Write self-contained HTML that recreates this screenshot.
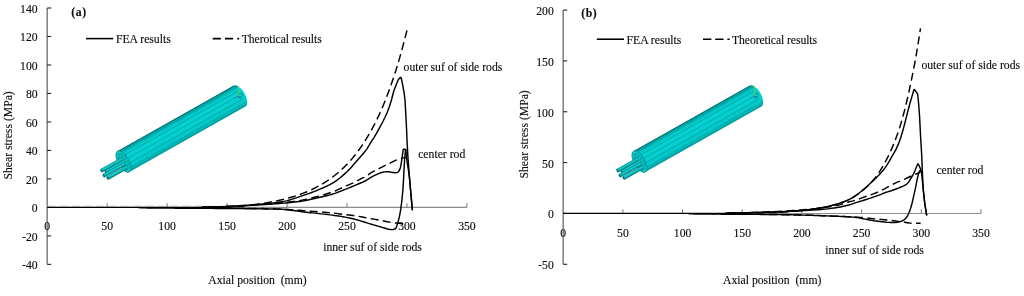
<!DOCTYPE html>
<html><head><meta charset="utf-8"><style>
html,body{margin:0;padding:0;background:#fff;}
svg{display:block;will-change:transform;}
text{font-family:"Liberation Serif", serif;font-size:11.7px;fill:#0a0a0a;stroke:#0a0a0a;stroke-width:0.12px;}
</style></head><body>
<svg width="1024" height="296" viewBox="0 0 1024 296">
<rect width="1024" height="296" fill="#fff"/>
<line x1="47.2" y1="7.998000000000019" x2="47.2" y2="264.372" stroke="#858585" stroke-width="1.6"/>
<line x1="47.2" y1="207.4" x2="466.9" y2="207.4" stroke="#8c8c8c" stroke-width="1.15"/>
<line x1="47.2" y1="264.37" x2="51.20" y2="264.37" stroke="#222" stroke-width="1.1"/>
<text x="37.6" y="269.27" text-anchor="end" font-size="12" stroke-width="0" fill="#262626">-40</text>
<line x1="47.2" y1="235.89" x2="51.20" y2="235.89" stroke="#222" stroke-width="1.1"/>
<text x="37.6" y="240.79" text-anchor="end" font-size="12" stroke-width="0" fill="#262626">-20</text>
<line x1="47.2" y1="207.40" x2="51.20" y2="207.40" stroke="#222" stroke-width="1.1"/>
<text x="37.6" y="212.30" text-anchor="end" font-size="12" stroke-width="0" fill="#262626">0</text>
<line x1="47.2" y1="178.91" x2="51.20" y2="178.91" stroke="#222" stroke-width="1.1"/>
<text x="37.6" y="183.81" text-anchor="end" font-size="12" stroke-width="0" fill="#262626">20</text>
<line x1="47.2" y1="150.43" x2="51.20" y2="150.43" stroke="#222" stroke-width="1.1"/>
<text x="37.6" y="155.33" text-anchor="end" font-size="12" stroke-width="0" fill="#262626">40</text>
<line x1="47.2" y1="121.94" x2="51.20" y2="121.94" stroke="#222" stroke-width="1.1"/>
<text x="37.6" y="126.84" text-anchor="end" font-size="12" stroke-width="0" fill="#262626">60</text>
<line x1="47.2" y1="93.46" x2="51.20" y2="93.46" stroke="#222" stroke-width="1.1"/>
<text x="37.6" y="98.36" text-anchor="end" font-size="12" stroke-width="0" fill="#262626">80</text>
<line x1="47.2" y1="64.97" x2="51.20" y2="64.97" stroke="#222" stroke-width="1.1"/>
<text x="37.6" y="69.87" text-anchor="end" font-size="12" stroke-width="0" fill="#262626">100</text>
<line x1="47.2" y1="36.48" x2="51.20" y2="36.48" stroke="#222" stroke-width="1.1"/>
<text x="37.6" y="41.38" text-anchor="end" font-size="12" stroke-width="0" fill="#262626">120</text>
<line x1="47.2" y1="8.00" x2="51.20" y2="8.00" stroke="#222" stroke-width="1.1"/>
<text x="37.6" y="12.90" text-anchor="end" font-size="12" stroke-width="0" fill="#262626">140</text>
<text x="47.20" y="229.9" text-anchor="middle" font-size="12" stroke-width="0" fill="#262626">0</text>
<line x1="107.16" y1="207.4" x2="107.16" y2="203.20" stroke="#777" stroke-width="1"/>
<text x="107.16" y="229.9" text-anchor="middle" font-size="12" stroke-width="0" fill="#262626">50</text>
<line x1="167.11" y1="207.4" x2="167.11" y2="203.20" stroke="#777" stroke-width="1"/>
<text x="167.11" y="229.9" text-anchor="middle" font-size="12" stroke-width="0" fill="#262626">100</text>
<line x1="227.07" y1="207.4" x2="227.07" y2="203.20" stroke="#777" stroke-width="1"/>
<text x="227.07" y="229.9" text-anchor="middle" font-size="12" stroke-width="0" fill="#262626">150</text>
<line x1="287.03" y1="207.4" x2="287.03" y2="203.20" stroke="#777" stroke-width="1"/>
<text x="287.03" y="229.9" text-anchor="middle" font-size="12" stroke-width="0" fill="#262626">200</text>
<line x1="346.99" y1="207.4" x2="346.99" y2="203.20" stroke="#777" stroke-width="1"/>
<text x="346.99" y="229.9" text-anchor="middle" font-size="12" stroke-width="0" fill="#262626">250</text>
<line x1="406.94" y1="207.4" x2="406.94" y2="203.20" stroke="#777" stroke-width="1"/>
<text x="406.94" y="229.9" text-anchor="middle" font-size="12" stroke-width="0" fill="#262626">300</text>
<line x1="466.90" y1="207.4" x2="466.90" y2="203.20" stroke="#777" stroke-width="1"/>
<text x="466.90" y="229.9" text-anchor="middle" font-size="12" stroke-width="0" fill="#262626">350</text>
<line x1="563.2" y1="10.050000000000011" x2="563.2" y2="264.29999999999995" stroke="#858585" stroke-width="1.6"/>
<line x1="563.2" y1="213.45" x2="981.0" y2="213.45" stroke="#8c8c8c" stroke-width="1.15"/>
<line x1="563.2" y1="264.30" x2="567.20" y2="264.30" stroke="#222" stroke-width="1.1"/>
<text x="553.8" y="269.20" text-anchor="end" font-size="12" stroke-width="0" fill="#262626">-50</text>
<line x1="563.2" y1="213.45" x2="567.20" y2="213.45" stroke="#222" stroke-width="1.1"/>
<text x="553.8" y="218.35" text-anchor="end" font-size="12" stroke-width="0" fill="#262626">0</text>
<line x1="563.2" y1="162.60" x2="567.20" y2="162.60" stroke="#222" stroke-width="1.1"/>
<text x="553.8" y="167.50" text-anchor="end" font-size="12" stroke-width="0" fill="#262626">50</text>
<line x1="563.2" y1="111.75" x2="567.20" y2="111.75" stroke="#222" stroke-width="1.1"/>
<text x="553.8" y="116.65" text-anchor="end" font-size="12" stroke-width="0" fill="#262626">100</text>
<line x1="563.2" y1="60.90" x2="567.20" y2="60.90" stroke="#222" stroke-width="1.1"/>
<text x="553.8" y="65.80" text-anchor="end" font-size="12" stroke-width="0" fill="#262626">150</text>
<line x1="563.2" y1="10.05" x2="567.20" y2="10.05" stroke="#222" stroke-width="1.1"/>
<text x="553.8" y="14.95" text-anchor="end" font-size="12" stroke-width="0" fill="#262626">200</text>
<text x="563.20" y="236.5" text-anchor="middle" font-size="12" stroke-width="0" fill="#262626">0</text>
<line x1="622.89" y1="213.45" x2="622.89" y2="209.25" stroke="#777" stroke-width="1"/>
<text x="622.89" y="236.5" text-anchor="middle" font-size="12" stroke-width="0" fill="#262626">50</text>
<line x1="682.57" y1="213.45" x2="682.57" y2="209.25" stroke="#777" stroke-width="1"/>
<text x="682.57" y="236.5" text-anchor="middle" font-size="12" stroke-width="0" fill="#262626">100</text>
<line x1="742.26" y1="213.45" x2="742.26" y2="209.25" stroke="#777" stroke-width="1"/>
<text x="742.26" y="236.5" text-anchor="middle" font-size="12" stroke-width="0" fill="#262626">150</text>
<line x1="801.94" y1="213.45" x2="801.94" y2="209.25" stroke="#777" stroke-width="1"/>
<text x="801.94" y="236.5" text-anchor="middle" font-size="12" stroke-width="0" fill="#262626">200</text>
<line x1="861.63" y1="213.45" x2="861.63" y2="209.25" stroke="#777" stroke-width="1"/>
<text x="861.63" y="236.5" text-anchor="middle" font-size="12" stroke-width="0" fill="#262626">250</text>
<line x1="921.31" y1="213.45" x2="921.31" y2="209.25" stroke="#777" stroke-width="1"/>
<text x="921.31" y="236.5" text-anchor="middle" font-size="12" stroke-width="0" fill="#262626">300</text>
<line x1="981.00" y1="213.45" x2="981.00" y2="209.25" stroke="#777" stroke-width="1"/>
<text x="981.00" y="236.5" text-anchor="middle" font-size="12" stroke-width="0" fill="#262626">350</text>
<line x1="47.2" y1="207.4" x2="227.07" y2="207.4" stroke="#000" stroke-width="1.25"/>
<line x1="47.2" y1="206.30" x2="227.07" y2="206.30" stroke="#999" stroke-width="0.8" stroke-dasharray="8 4.3"/>
<path d="M207.17,207.13 L209.39,207.07 L211.61,207.02 L213.84,206.96 L216.06,206.89 L218.28,206.83 L220.50,206.76 L222.72,206.69 L224.94,206.62 L227.17,206.54 L229.39,206.46 L231.61,206.36 L233.83,206.26 L236.05,206.13 L238.28,206.00 L240.50,205.86 L242.72,205.70 L244.94,205.54 L247.16,205.37 L249.38,205.19 L251.61,205.01 L253.83,204.82 L256.05,204.62 L258.27,204.42 L260.49,204.22 L262.72,204.01 L264.94,203.80 L267.16,203.58 L269.38,203.35 L271.60,203.11 L273.82,202.85 L276.05,202.56 L278.27,202.25 L280.49,201.91 L282.71,201.54 L284.93,201.12 L287.16,200.60 L289.38,200.00 L291.60,199.33 L293.82,198.62 L296.04,197.88 L298.26,197.14 L300.49,196.41 L302.71,195.68 L304.93,194.93 L307.15,194.16 L309.37,193.36 L311.60,192.54 L313.82,191.68 L316.04,190.80 L318.26,189.88 L320.48,188.95 L322.70,187.99 L324.93,187.00 L327.15,185.94 L329.37,184.82 L331.59,183.62 L333.81,182.32 L336.04,180.88 L338.26,179.27 L340.48,177.51 L342.70,175.64 L344.92,173.65 L347.14,171.59 L349.37,169.39 L351.59,166.93 L353.81,164.33 L356.03,161.73 L358.25,159.23 L360.47,156.72 L362.70,154.15 L364.92,151.56 L367.14,148.60 L369.36,144.81 L371.58,141.21 L373.81,137.80 L376.03,134.09 L378.25,130.09 L380.47,126.09 L382.69,122.00 L384.91,117.55 L387.14,112.60 L389.36,106.81 L391.58,99.45 L393.80,90.98 L396.02,85.22 L398.25,79.75 L400.47,77.36 L401.00,77.50 L401.90,81.00 L402.70,85.20 L404.20,93.30 L405.00,100.00 L405.60,110.60 L406.20,122.00 L406.70,132.00 L407.10,142.00 L408.00,158.00 L409.50,178.00 L411.00,195.00 L412.40,210.30" fill="none" stroke="#000" stroke-width="1.45" stroke-linejoin="round"/>
<path d="M202.75,207.11 L204.94,207.08 L207.13,207.04 L209.33,207.01 L211.52,206.97 L213.71,206.93 L215.90,206.89 L218.09,206.84 L220.28,206.77 L222.47,206.71 L224.66,206.63 L226.85,206.54 L229.04,206.45 L231.23,206.36 L233.43,206.26 L235.62,206.15 L237.81,206.05 L240.00,205.94 L242.19,205.83 L244.38,205.72 L246.57,205.62 L248.76,205.50 L250.95,205.39 L253.14,205.27 L255.33,205.15 L257.53,205.02 L259.72,204.89 L261.91,204.75 L264.10,204.61 L266.29,204.47 L268.48,204.32 L270.67,204.16 L272.86,204.00 L275.05,203.84 L277.24,203.67 L279.43,203.50 L281.62,203.32 L283.82,203.14 L286.01,202.95 L288.20,202.75 L290.39,202.53 L292.58,202.30 L294.77,202.06 L296.96,201.80 L299.15,201.53 L301.34,201.22 L303.53,200.86 L305.72,200.46 L307.92,200.01 L310.11,199.54 L312.30,199.04 L314.49,198.54 L316.68,198.05 L318.87,197.55 L321.06,197.05 L323.25,196.54 L325.44,196.01 L327.63,195.46 L329.82,194.88 L332.02,194.26 L334.21,193.60 L336.40,192.86 L338.59,192.04 L340.78,191.18 L342.97,190.29 L345.16,189.42 L347.35,188.55 L349.54,187.66 L351.73,186.76 L353.92,185.84 L356.12,184.91 L358.31,183.98 L360.50,183.04 L362.69,182.06 L364.88,181.00 L367.07,179.79 L369.26,178.42 L371.45,177.10 L373.64,175.96 L375.83,174.91 L378.02,173.93 L380.21,172.96 L382.41,172.30 L384.60,171.88 L386.79,171.66 L388.98,171.80 L391.17,172.18 L393.36,172.50 L395.55,172.79 L397.80,172.40 L399.40,170.30 L400.30,168.00 L400.90,165.20 L401.60,161.00 L402.30,156.00 L402.90,151.50 L403.30,149.50 L404.50,149.10 L405.70,149.40 L406.10,153.00 L406.60,158.00 L407.40,164.00 L408.40,170.00 L409.50,178.00 L411.00,195.00 L412.40,210.30" fill="none" stroke="#000" stroke-width="1.45" stroke-linejoin="round"/>
<path d="M138.58,207.64 L140.76,207.72 L142.94,207.80 L145.11,207.88 L147.29,207.94 L149.46,207.97 L151.64,208.00 L153.81,208.02 L155.99,208.04 L158.17,208.06 L160.34,208.08 L162.52,208.09 L164.69,208.11 L166.87,208.12 L169.04,208.13 L171.22,208.14 L173.40,208.15 L175.57,208.17 L177.75,208.18 L179.92,208.19 L182.10,208.20 L184.28,208.21 L186.45,208.22 L188.63,208.24 L190.80,208.25 L192.98,208.27 L195.15,208.28 L197.33,208.30 L199.51,208.31 L201.68,208.33 L203.86,208.34 L206.03,208.35 L208.21,208.37 L210.39,208.38 L212.56,208.40 L214.74,208.41 L216.91,208.43 L219.09,208.44 L221.26,208.46 L223.44,208.47 L225.62,208.49 L227.79,208.51 L229.97,208.53 L232.14,208.55 L234.32,208.56 L236.49,208.59 L238.67,208.61 L240.85,208.63 L243.02,208.65 L245.20,208.67 L247.37,208.69 L249.55,208.72 L251.73,208.74 L253.90,208.76 L256.08,208.79 L258.25,208.82 L260.43,208.85 L262.60,208.88 L264.78,208.91 L266.96,208.95 L269.13,208.99 L271.31,209.03 L273.48,209.08 L275.66,209.13 L277.84,209.19 L280.01,209.25 L282.19,209.34 L284.36,209.49 L286.54,209.69 L288.71,209.92 L290.89,210.19 L293.07,210.47 L295.24,210.77 L297.42,211.08 L299.59,211.38 L301.77,211.68 L303.94,211.95 L306.12,212.20 L308.30,212.43 L310.47,212.67 L312.65,212.90 L314.82,213.13 L317.00,213.37 L319.18,213.61 L321.35,213.86 L323.53,214.11 L325.70,214.36 L327.88,214.62 L330.05,214.87 L332.23,215.14 L334.41,215.42 L336.58,215.72 L338.76,216.03 L340.93,216.38 L343.11,216.75 L345.29,217.16 L347.46,217.59 L349.64,218.06 L351.81,218.55 L353.99,219.06 L356.16,219.59 L358.34,220.18 L360.52,220.83 L362.69,221.51 L364.87,222.20 L367.04,222.90 L369.22,223.58 L371.39,224.23 L373.57,224.87 L375.75,225.51 L377.92,226.15 L380.10,226.78 L382.27,227.39 L384.45,228.04 L386.63,228.71 L388.80,229.22 L390.98,229.49 L393.15,229.62 L394.40,229.00 L395.40,228.70 L396.30,227.60 L397.10,225.00 L398.30,221.00 L399.40,216.60 L400.20,212.50 L400.90,208.20 L401.50,203.50 L402.00,199.10 L402.90,190.00 L403.50,180.00 L404.10,168.00 L404.60,160.00 L405.00,155.00 L405.40,151.00 L405.70,149.40" fill="none" stroke="#000" stroke-width="1.45" stroke-linejoin="round"/>
<path d="M406.94,30.36 L405.14,37.61 L403.33,44.58 L401.52,51.26 L399.71,57.67 L397.90,63.82 L396.10,69.73 L394.29,75.39 L392.48,80.83 L390.67,86.05 L388.87,91.06 L387.06,95.86 L385.25,100.47 L383.44,104.90 L381.63,109.15 L379.83,113.22 L378.02,117.13 L376.21,120.88 L374.40,124.49 L372.60,127.94 L370.79,131.26 L368.98,134.44 L367.17,137.49 L365.36,140.43 L363.56,143.24 L361.75,145.94 L359.94,148.53 L358.13,151.01 L356.33,153.40 L354.52,155.69 L352.71,157.88 L350.90,159.99 L349.09,162.01 L347.29,163.96 L345.48,165.82 L343.67,167.61 L341.86,169.32 L340.06,170.97 L338.25,172.55 L336.44,174.06 L334.63,175.52 L332.82,176.91 L331.02,178.25 L329.21,179.54 L327.40,180.77 L325.59,181.96 L323.79,183.09 L321.98,184.18 L320.17,185.23 L318.36,186.23 L316.56,187.20 L314.75,188.12 L312.94,189.01 L311.13,189.86 L309.32,190.68 L307.52,191.46 L305.71,192.22 L303.90,192.94 L302.09,193.63 L300.29,194.30 L298.48,194.93 L296.67,195.55 L294.86,196.13 L293.05,196.70 L291.25,197.24 L289.44,197.76 L287.63,198.26 L285.82,198.74 L284.02,199.19 L282.21,199.63 L280.40,200.06 L278.59,200.46 L276.78,200.85 L274.98,201.23 L273.17,201.58 L271.36,201.93 L269.55,202.26 L267.75,202.57 L265.94,202.88 L264.13,203.17 L262.32,203.45 L260.51,203.72 L258.71,203.98 L256.90,204.22 L255.09,204.46 L253.28,204.69 L251.48,204.91 L249.67,205.12 L247.86,205.32 L246.05,205.51 L244.25,205.70 L242.44,205.88 L240.63,206.05 L238.82,206.21 L237.01,206.37 L235.21,206.52 L233.40,206.66 L231.59,206.80 L229.78,206.94 L227.98,207.06 L226.17,207.19" fill="none" stroke="#000" stroke-width="1.45" stroke-dasharray="8 4.3" stroke-dashoffset="0" stroke-linejoin="round"/>
<path d="M201.05,207.11 L203.31,207.07 L205.58,207.03 L207.84,206.98 L210.10,206.94 L212.36,206.89 L214.63,206.84 L216.89,206.79 L219.15,206.72 L221.42,206.64 L223.68,206.55 L225.94,206.45 L228.20,206.34 L230.47,206.23 L232.73,206.11 L234.99,205.98 L237.25,205.86 L239.52,205.73 L241.78,205.59 L244.04,205.46 L246.30,205.33 L248.57,205.20 L250.83,205.06 L253.09,204.92 L255.35,204.77 L257.62,204.62 L259.88,204.46 L262.14,204.30 L264.40,204.13 L266.67,203.96 L268.93,203.78 L271.19,203.60 L273.45,203.41 L275.72,203.21 L277.98,203.01 L280.24,202.80 L282.50,202.59 L284.77,202.37 L287.03,202.14 L289.29,201.89 L291.55,201.63 L293.82,201.35 L296.08,201.06 L298.34,200.74 L300.60,200.39 L302.87,199.99 L305.13,199.53 L307.39,199.01 L309.65,198.46 L311.92,197.88 L314.18,197.29 L316.44,196.69 L318.70,196.09 L320.97,195.48 L323.23,194.85 L325.49,194.19 L327.75,193.50 L330.02,192.77 L332.28,191.99 L334.54,191.16 L336.80,190.21 L339.07,189.15 L341.33,188.06 L343.59,186.98 L345.85,185.98 L348.12,185.06 L350.38,184.16 L352.64,183.19 L354.90,182.10 L357.17,180.86 L359.43,179.60 L361.69,178.44 L363.95,177.34 L366.22,176.11 L368.48,174.59 L370.74,172.98 L373.00,171.61 L375.27,170.48 L377.53,169.39 L379.79,168.23 L382.05,167.05 L384.32,165.89 L386.58,164.76 L388.84,163.65 L391.11,162.53 L393.37,161.36 L395.63,160.30 L397.89,159.49 L400.16,158.78 L402.42,158.15 L404.68,157.63 L406.94,157.26" fill="none" stroke="#000" stroke-width="1.45" stroke-dasharray="8 4.3" stroke-dashoffset="0" stroke-linejoin="round"/>
<path d="M186.78,207.67 L189.03,207.70 L191.28,207.74 L193.53,207.77 L195.78,207.80 L198.03,207.84 L200.28,207.87 L202.53,207.89 L204.79,207.92 L207.04,207.94 L209.29,207.96 L211.54,207.98 L213.79,208.00 L216.04,208.02 L218.29,208.04 L220.54,208.06 L222.80,208.08 L225.05,208.11 L227.30,208.13 L229.55,208.15 L231.80,208.17 L234.05,208.20 L236.30,208.22 L238.55,208.25 L240.81,208.28 L243.06,208.30 L245.31,208.33 L247.56,208.36 L249.81,208.38 L252.06,208.41 L254.31,208.44 L256.56,208.47 L258.81,208.51 L261.07,208.54 L263.32,208.58 L265.57,208.62 L267.82,208.66 L270.07,208.71 L272.32,208.76 L274.57,208.81 L276.82,208.87 L279.08,208.94 L281.33,209.01 L283.58,209.13 L285.83,209.29 L288.08,209.46 L290.33,209.64 L292.58,209.82 L294.83,209.98 L297.09,210.15 L299.34,210.32 L301.59,210.49 L303.84,210.67 L306.09,210.85 L308.34,211.03 L310.59,211.21 L312.84,211.40 L315.10,211.58 L317.35,211.76 L319.60,211.95 L321.85,212.12 L324.10,212.29 L326.35,212.46 L328.60,212.65 L330.85,212.84 L333.11,213.05 L335.36,213.29 L337.61,213.60 L339.86,213.94 L342.11,214.24 L344.36,214.50 L346.61,214.76 L348.86,215.00 L351.11,215.26 L353.37,215.54 L355.62,215.86 L357.87,216.22 L360.12,216.63 L362.37,217.06 L364.62,217.50 L366.87,217.93 L369.12,218.35 L371.38,218.74 L373.63,219.14 L375.88,219.53 L378.13,219.93 L380.38,220.33 L382.63,220.75 L384.88,221.21 L387.13,221.67 L389.39,222.11 L391.64,222.49 L393.89,222.80 L396.14,223.05 L398.39,223.29 L400.64,223.49 L402.89,223.66 L405.14,223.78" fill="none" stroke="#000" stroke-width="1.45" stroke-dasharray="8 4.3" stroke-dashoffset="0" stroke-linejoin="round"/>
<line x1="563.2" y1="213.45" x2="742.26" y2="213.45" stroke="#000" stroke-width="1.25"/>
<path d="M728.69,213.20 L730.89,213.12 L733.10,213.05 L735.31,212.97 L737.51,212.90 L739.72,212.84 L741.93,212.79 L744.13,212.74 L746.34,212.70 L748.55,212.65 L750.75,212.61 L752.96,212.57 L755.17,212.53 L757.37,212.49 L759.58,212.45 L761.78,212.40 L763.99,212.36 L766.20,212.31 L768.40,212.26 L770.61,212.21 L772.82,212.15 L775.02,212.08 L777.23,212.01 L779.44,211.94 L781.64,211.85 L783.85,211.75 L786.06,211.63 L788.26,211.49 L790.47,211.34 L792.68,211.18 L794.88,211.01 L797.09,210.83 L799.29,210.64 L801.50,210.44 L803.71,210.23 L805.91,210.00 L808.12,209.74 L810.33,209.47 L812.53,209.17 L814.74,208.86 L816.95,208.53 L819.15,208.19 L821.36,207.83 L823.57,207.43 L825.77,206.98 L827.98,206.50 L830.19,205.98 L832.39,205.42 L834.60,204.81 L836.81,204.16 L839.01,203.47 L841.22,202.72 L843.42,201.92 L845.63,201.06 L847.84,200.08 L850.04,198.98 L852.25,197.76 L854.46,196.40 L856.66,194.87 L858.87,193.22 L861.08,191.51 L863.28,189.68 L865.49,187.76 L867.70,185.81 L869.90,183.83 L872.11,181.81 L874.32,179.71 L876.52,177.53 L878.73,175.26 L880.94,172.85 L883.14,170.25 L885.35,167.42 L887.55,164.21 L889.76,160.41 L891.97,156.39 L894.17,152.53 L896.38,148.53 L898.59,143.65 L900.79,137.46 L903.00,129.97 L905.21,121.76 L907.41,112.85 L909.62,104.47 L911.83,96.89 L914.03,89.58 L914.60,89.60 L916.00,91.60 L917.60,94.00 L918.40,101.00 L919.50,115.00 L920.50,135.00 L921.70,155.00 L922.50,175.00 L923.30,190.00 L924.70,203.00 L926.50,214.50 L927.00,215.40" fill="none" stroke="#000" stroke-width="1.45" stroke-linejoin="round"/>
<path d="M726.44,213.17 L728.59,213.14 L730.74,213.11 L732.89,213.07 L735.03,213.03 L737.18,212.99 L739.33,212.95 L741.48,212.91 L743.63,212.86 L745.77,212.82 L747.92,212.77 L750.07,212.73 L752.22,212.68 L754.37,212.63 L756.51,212.58 L758.66,212.53 L760.81,212.47 L762.96,212.40 L765.11,212.33 L767.25,212.26 L769.40,212.18 L771.55,212.10 L773.70,212.02 L775.85,211.93 L777.99,211.84 L780.14,211.75 L782.29,211.66 L784.44,211.56 L786.59,211.47 L788.73,211.37 L790.88,211.27 L793.03,211.17 L795.18,211.07 L797.32,210.97 L799.47,210.86 L801.62,210.75 L803.77,210.63 L805.92,210.51 L808.06,210.38 L810.21,210.25 L812.36,210.12 L814.51,209.97 L816.66,209.82 L818.80,209.66 L820.95,209.50 L823.10,209.31 L825.25,209.11 L827.40,208.88 L829.54,208.63 L831.69,208.34 L833.84,208.03 L835.99,207.69 L838.14,207.32 L840.28,206.92 L842.43,206.49 L844.58,206.02 L846.73,205.52 L848.88,204.98 L851.02,204.38 L853.17,203.57 L855.32,202.84 L857.47,202.18 L859.62,201.53 L861.76,200.89 L863.91,200.23 L866.06,199.54 L868.21,198.83 L870.35,198.09 L872.50,197.35 L874.65,196.61 L876.80,195.89 L878.95,195.18 L881.09,194.39 L883.24,193.41 L885.39,192.53 L887.54,191.85 L889.69,191.23 L891.83,190.55 L893.98,189.79 L896.13,189.00 L898.28,188.17 L900.43,187.29 L902.57,186.36 L904.72,185.38 L905.90,184.70 L908.40,182.50 L910.10,179.60 L912.00,176.50 L913.50,174.00 L914.80,171.00 L916.40,167.00 L917.90,163.70 L919.00,165.30 L920.40,168.80 L921.60,172.50 L922.50,182.00 L923.30,190.00 L924.70,203.00 L926.50,214.50 L927.00,215.40" fill="none" stroke="#000" stroke-width="1.45" stroke-linejoin="round"/>
<path d="M688.69,213.66 L690.81,213.76 L692.94,213.85 L695.07,213.92 L697.20,213.96 L699.32,213.99 L701.45,214.01 L703.58,214.03 L705.70,214.05 L707.83,214.07 L709.96,214.09 L712.08,214.10 L714.21,214.11 L716.34,214.13 L718.46,214.14 L720.59,214.15 L722.72,214.16 L724.85,214.18 L726.97,214.19 L729.10,214.20 L731.23,214.22 L733.35,214.23 L735.48,214.25 L737.61,214.26 L739.73,214.28 L741.86,214.29 L743.99,214.30 L746.11,214.31 L748.24,214.33 L750.37,214.34 L752.50,214.36 L754.62,214.37 L756.75,214.39 L758.88,214.40 L761.00,214.42 L763.13,214.44 L765.26,214.46 L767.38,214.48 L769.51,214.50 L771.64,214.53 L773.76,214.56 L775.89,214.59 L778.02,214.62 L780.15,214.65 L782.27,214.69 L784.40,214.72 L786.53,214.76 L788.65,214.80 L790.78,214.84 L792.91,214.88 L795.03,214.93 L797.16,214.97 L799.29,215.02 L801.41,215.07 L803.54,215.11 L805.67,215.17 L807.80,215.22 L809.92,215.28 L812.05,215.35 L814.18,215.41 L816.30,215.48 L818.43,215.56 L820.56,215.63 L822.68,215.71 L824.81,215.79 L826.94,215.87 L829.06,215.95 L831.19,216.04 L833.32,216.12 L835.44,216.21 L837.57,216.29 L839.70,216.38 L841.83,216.47 L843.95,216.58 L846.08,216.69 L848.21,216.81 L850.33,216.95 L852.46,217.11 L854.59,217.28 L856.71,217.52 L858.84,217.87 L860.97,218.29 L863.09,218.73 L865.22,219.15 L867.35,219.55 L869.48,219.96 L871.60,220.37 L873.73,220.75 L875.86,221.06 L877.98,221.34 L880.11,221.58 L882.24,221.80 L884.36,222.01 L886.49,222.22 L888.62,222.37 L890.74,222.48 L892.87,222.55 L895.00,222.51 L897.13,222.35 L899.25,221.91 L901.38,221.28 L903.60,220.20 L905.00,219.00 L906.50,217.40 L907.80,215.30 L909.40,211.70 L910.90,207.50 L912.10,203.00 L913.20,198.20 L914.40,192.80 L915.60,187.30 L917.10,179.60 L918.30,174.50 L919.50,171.00 L920.50,170.30 L921.60,172.50" fill="none" stroke="#000" stroke-width="1.45" stroke-linejoin="round"/>
<path d="M920.48,28.46 L919.10,37.48 L917.72,46.08 L916.34,54.25 L914.96,62.00 L913.58,69.24 L912.20,76.13 L910.82,82.86 L909.44,89.45 L908.06,95.79 L906.68,101.74 L905.30,107.38 L903.93,112.76 L902.55,117.86 L901.17,122.68 L899.79,127.19 L898.41,131.30 L897.03,135.19 L895.65,138.92 L894.27,142.49 L892.89,145.90 L891.51,149.15 L890.13,152.24 L888.75,155.17 L887.37,157.96 L885.99,160.60 L884.61,163.13 L883.23,165.56 L881.85,167.91 L880.47,170.18 L879.10,172.35 L877.72,174.38 L876.34,176.26 L874.96,178.03 L873.58,179.70 L872.20,181.30 L870.82,182.82 L869.44,184.27 L868.06,185.66 L866.68,186.98 L865.30,188.23 L863.92,189.43 L862.54,190.57 L861.16,191.67 L859.78,192.72 L858.40,193.74 L857.02,194.73 L855.64,195.67 L854.26,196.56 L852.89,197.40 L851.51,198.18 L850.13,198.92 L848.75,199.64 L847.37,200.30 L845.99,200.91 L844.61,201.47 L843.23,201.98 L841.85,202.48 L840.47,202.95 L839.09,203.40 L837.71,203.83 L836.33,204.24 L834.95,204.64 L833.57,205.01 L832.19,205.38 L830.81,205.72 L829.43,206.06 L828.06,206.38 L826.68,206.68 L825.30,206.97 L823.92,207.25 L822.54,207.51 L821.16,207.76 L819.78,207.99 L818.40,208.21 L817.02,208.43 L815.64,208.65 L814.26,208.86 L812.88,209.06 L811.50,209.26 L810.12,209.45 L808.74,209.63 L807.36,209.80 L805.98,209.97 L804.60,210.12 L803.23,210.27 L801.85,210.41 L800.47,210.54 L799.09,210.67 L797.71,210.80 L796.33,210.92 L794.95,211.04 L793.57,211.16 L792.19,211.27 L790.81,211.38 L789.43,211.48 L788.05,211.58 L786.67,211.67 L785.29,211.76 L783.91,211.84 L782.53,211.91 L781.15,211.97 L779.77,212.03 L778.39,212.08 L777.02,212.13 L775.64,212.18 L774.26,212.23 L772.88,212.27 L771.50,212.32 L770.12,212.36 L768.74,212.40 L767.36,212.44 L765.98,212.47 L764.60,212.51 L763.22,212.55 L761.84,212.58 L760.46,212.61 L759.08,212.64 L757.70,212.67 L756.32,212.70 L754.94,212.73 L753.56,212.76 L752.19,212.78 L750.81,212.81 L749.43,212.83 L748.05,212.85 L746.67,212.88 L745.29,212.90 L743.91,212.92 L742.53,212.94 L741.15,212.96 L739.77,212.98 L738.39,213.00 L737.01,213.01 L735.63,213.03 L734.25,213.05 L732.87,213.07 L731.49,213.09 L730.11,213.11 L728.73,213.13 L727.36,213.14 L725.98,213.16" fill="none" stroke="#000" stroke-width="1.45" stroke-dasharray="8 4.3" stroke-dashoffset="4.2" stroke-linejoin="round"/>
<path d="M724.99,213.15 L727.23,213.11 L729.48,213.07 L731.73,213.02 L733.97,212.97 L736.22,212.91 L738.47,212.86 L740.72,212.80 L742.96,212.74 L745.21,212.68 L747.46,212.62 L749.70,212.56 L751.95,212.50 L754.20,212.43 L756.45,212.37 L758.69,212.29 L760.94,212.21 L763.19,212.12 L765.43,212.03 L767.68,211.93 L769.93,211.83 L772.17,211.72 L774.42,211.60 L776.67,211.48 L778.92,211.36 L781.16,211.23 L783.41,211.10 L785.66,210.97 L787.90,210.83 L790.15,210.70 L792.40,210.55 L794.64,210.40 L796.89,210.25 L799.14,210.09 L801.39,209.92 L803.63,209.75 L805.88,209.56 L808.13,209.36 L810.37,209.16 L812.62,208.94 L814.87,208.71 L817.12,208.47 L819.36,208.22 L821.61,207.94 L823.86,207.64 L826.10,207.30 L828.35,206.94 L830.60,206.54 L832.84,206.12 L835.09,205.67 L837.34,205.20 L839.59,204.70 L841.83,204.14 L844.08,203.47 L846.33,202.75 L848.57,202.04 L850.82,201.41 L853.07,200.88 L855.31,200.24 L857.56,199.49 L859.81,198.68 L862.06,197.85 L864.30,197.03 L866.55,196.25 L868.80,195.49 L871.04,194.72 L873.29,193.91 L875.54,193.04 L877.79,192.02 L880.03,190.94 L882.28,189.89 L884.53,188.83 L886.77,187.63 L889.02,186.33 L891.27,185.08 L893.51,183.97 L895.76,182.94 L898.01,181.96 L900.26,181.01 L902.50,180.05 L904.75,179.06 L907.00,178.03 L909.24,176.97 L911.49,175.92 L913.74,174.91 L915.98,173.99 L918.23,173.15 L920.48,172.36" fill="none" stroke="#000" stroke-width="1.45" stroke-dasharray="8 4.3" stroke-dashoffset="0" stroke-linejoin="round"/>
<path d="M920.60,223.31 L918.35,223.30 L916.10,223.26 L913.85,223.21 L911.61,223.13 L909.36,222.99 L907.11,222.68 L904.86,222.33 L902.62,222.03 L900.37,221.71 L898.12,221.40 L895.87,221.09 L893.62,220.82 L891.38,220.55 L889.13,220.30 L886.88,220.06 L884.63,219.82 L882.39,219.59 L880.14,219.38 L877.89,219.17 L875.64,218.97 L873.39,218.77 L871.15,218.56 L868.90,218.32 L866.65,218.07 L864.40,217.82 L862.16,217.57 L859.91,217.36 L857.66,217.20 L855.41,217.06 L853.16,216.93 L850.92,216.82 L848.67,216.72 L846.42,216.62 L844.17,216.53 L841.93,216.44 L839.68,216.35 L837.43,216.27 L835.18,216.19 L832.93,216.11 L830.69,216.02 L828.44,215.93 L826.19,215.84 L823.94,215.75 L821.70,215.66 L819.45,215.56 L817.20,215.48 L814.95,215.39 L812.70,215.31 L810.46,215.23 L808.21,215.15 L805.96,215.08 L803.71,215.02 L801.47,214.96 L799.22,214.91 L796.97,214.86 L794.72,214.82 L792.47,214.77 L790.23,214.73 L787.98,214.69 L785.73,214.65 L783.48,214.62 L781.24,214.58 L778.99,214.55 L776.74,214.51 L774.49,214.48 L772.24,214.45 L770.00,214.42 L767.75,214.39 L765.50,214.36 L763.25,214.33 L761.01,214.30 L758.76,214.27 L756.51,214.25 L754.26,214.23 L752.01,214.20 L749.77,214.18 L747.52,214.16 L745.27,214.14 L743.02,214.11 L740.78,214.09 L738.53,214.07 L736.28,214.05 L734.03,214.03 L731.78,214.01 L729.54,213.98 L727.29,213.96 L725.04,213.94 L722.79,213.91 L720.55,213.88 L718.30,213.86 L716.05,213.82 L713.80,213.79 L711.55,213.74" fill="none" stroke="#000" stroke-width="1.45" stroke-dasharray="8 4.3" stroke-dashoffset="3.5" stroke-linejoin="round"/>
<line x1="86.0" y1="38.6" x2="113.2" y2="38.6" stroke="#000" stroke-width="1.55"/>
<text x="115.9" y="43.0">FEA results</text>
<line x1="212.7" y1="38.6" x2="239.2" y2="38.6" stroke="#000" stroke-width="1.55" stroke-dasharray="8.1 4.2"/>
<text x="241.8" y="43.3" letter-spacing="-0.09">Therotical results</text>
<line x1="596.8" y1="39.2" x2="624.0" y2="39.2" stroke="#000" stroke-width="1.55"/>
<text x="626.5" y="43.8">FEA results</text>
<line x1="703.0" y1="39.2" x2="729.7" y2="39.2" stroke="#000" stroke-width="1.55" stroke-dasharray="8.4 3.8"/>
<text x="732.0" y="43.7" letter-spacing="-0.09">Theoretical results</text>
<text x="403.6" y="70.5">outer suf of side rods</text>
<text x="418.2" y="157.9">center rod</text>
<text x="323.2" y="251.3">inner suf of side rods</text>
<text x="921.4" y="69.0">outer suf of side rods</text>
<text x="936.4" y="174.0">center rod</text>
<text x="825.2" y="253.8">inner suf of side rods</text>
<text x="71.3" y="15.7" font-weight="bold" font-size="13.6" letter-spacing="0.55">(a)</text>
<text x="581.3" y="17.4" font-weight="bold" font-size="13.6" letter-spacing="0.55">(b)</text>
<text x="257.5" y="284.3" text-anchor="middle" xml:space="preserve">Axial position  (mm)</text>
<text x="772.2" y="284.2" text-anchor="middle" xml:space="preserve">Axial position  (mm)</text>
<text transform="translate(11.6,135.4) rotate(-90)" text-anchor="middle">Shear stress (MPa)</text>
<text transform="translate(527.6,134.4) rotate(-90)" text-anchor="middle">Shear stress (MPa)</text>
<g transform="translate(123.4,161.6) rotate(-29.4)">
<defs><linearGradient id="cga" x1="0" y1="-12" x2="0" y2="12" gradientUnits="userSpaceOnUse"><stop offset="0" stop-color="#007e7e"/><stop offset="0.07" stop-color="#00a8a8"/><stop offset="0.14" stop-color="#00b8b8"/><stop offset="0.24" stop-color="#04d0d0"/><stop offset="0.5" stop-color="#04d2d2"/><stop offset="0.75" stop-color="#02caca"/><stop offset="0.9" stop-color="#00bcbc"/><stop offset="1" stop-color="#008e8e"/></linearGradient><linearGradient id="rga" x1="0" y1="-1.9" x2="0" y2="1.9" gradientUnits="userSpaceOnUse"><stop offset="0" stop-color="#007e7e"/><stop offset="0.3" stop-color="#10d4d4"/><stop offset="0.65" stop-color="#00b0b0"/><stop offset="1" stop-color="#006262"/></linearGradient></defs>
<rect x="0" y="-12" width="133.3" height="24" fill="url(#cga)"/>
<ellipse cx="133.3" cy="0" rx="5.8" ry="12" fill="url(#cga)"/>
<line x1="0" y1="-9.6" x2="135.3" y2="-9.6" stroke="#009a9a" stroke-width="0.85" opacity="0.8"/>
<line x1="0" y1="-5.2" x2="135.3" y2="-5.2" stroke="#009a9a" stroke-width="0.85" opacity="0.8"/>
<line x1="0" y1="-0.6" x2="135.3" y2="-0.6" stroke="#009a9a" stroke-width="0.85" opacity="0.8"/>
<line x1="0" y1="4.2" x2="135.3" y2="4.2" stroke="#009a9a" stroke-width="0.85" opacity="0.8"/>
<line x1="0" y1="8.6" x2="135.3" y2="8.6" stroke="#009a9a" stroke-width="0.85" opacity="0.8"/>
<line x1="0" y1="-11.7" x2="133.3" y2="-11.7" stroke="#006e6e" stroke-width="0.7"/>
<circle cx="134.5" cy="-0.5" r="2.0" fill="#10cccc" stroke="#007676" stroke-width="0.7"/>
<ellipse cx="0" cy="0" rx="5.4" ry="12" fill="#0ccccc" stroke="#008888" stroke-width="0.7"/>
<ellipse cx="0" cy="0" rx="4.0" ry="9.36" fill="none" stroke="#009090" stroke-width="0.5"/>
<ellipse cx="2.17" cy="3.10" rx="1.15" ry="2.3" fill="#12cfcf" stroke="#007c7c" stroke-width="0.5"/>
<ellipse cx="0.00" cy="6.20" rx="1.15" ry="2.3" fill="#12cfcf" stroke="#007c7c" stroke-width="0.5"/>
<ellipse cx="-2.17" cy="3.10" rx="1.15" ry="2.3" fill="#12cfcf" stroke="#007c7c" stroke-width="0.5"/>
<ellipse cx="-2.17" cy="-3.10" rx="1.15" ry="2.3" fill="#12cfcf" stroke="#007c7c" stroke-width="0.5"/>
<ellipse cx="-0.00" cy="-6.20" rx="1.15" ry="2.3" fill="#12cfcf" stroke="#007c7c" stroke-width="0.5"/>
<ellipse cx="2.17" cy="-3.10" rx="1.15" ry="2.3" fill="#12cfcf" stroke="#007c7c" stroke-width="0.5"/>
<ellipse cx="0" cy="0" rx="1.1" ry="2.2" fill="#10cccc" stroke="#007c7c" stroke-width="0.5"/>
<g transform="translate(0,-2.8)">
<rect x="-23.5" y="-1.9" width="23.5" height="3.8" fill="url(#rga)"/>
<ellipse cx="-23.5" cy="0" rx="1.0" ry="1.9" fill="#007a7a"/>
</g>
<g transform="translate(0,0.6)">
<rect x="-20.5" y="-1.9" width="20.5" height="3.8" fill="url(#rga)"/>
<ellipse cx="-20.5" cy="0" rx="1.0" ry="1.9" fill="#007a7a"/>
</g>
<g transform="translate(0,2.6)">
<rect x="-24.0" y="-1.9" width="24.0" height="3.8" fill="url(#rga)"/>
<ellipse cx="-24.0" cy="0" rx="1.0" ry="1.9" fill="#007a7a"/>
</g>
<g transform="translate(0,6.6)">
<rect x="-21.8" y="-1.9" width="21.8" height="3.8" fill="url(#rga)"/>
<ellipse cx="-21.8" cy="0" rx="1.0" ry="1.9" fill="#007a7a"/>
</g>
</g>
<g transform="translate(639.4,161.6) rotate(-29.4)">
<defs><linearGradient id="cgb" x1="0" y1="-12" x2="0" y2="12" gradientUnits="userSpaceOnUse"><stop offset="0" stop-color="#007e7e"/><stop offset="0.07" stop-color="#00a8a8"/><stop offset="0.14" stop-color="#00b8b8"/><stop offset="0.24" stop-color="#04d0d0"/><stop offset="0.5" stop-color="#04d2d2"/><stop offset="0.75" stop-color="#02caca"/><stop offset="0.9" stop-color="#00bcbc"/><stop offset="1" stop-color="#008e8e"/></linearGradient><linearGradient id="rgb" x1="0" y1="-1.9" x2="0" y2="1.9" gradientUnits="userSpaceOnUse"><stop offset="0" stop-color="#007e7e"/><stop offset="0.3" stop-color="#10d4d4"/><stop offset="0.65" stop-color="#00b0b0"/><stop offset="1" stop-color="#006262"/></linearGradient></defs>
<rect x="0" y="-12" width="133.3" height="24" fill="url(#cgb)"/>
<ellipse cx="133.3" cy="0" rx="5.8" ry="12" fill="url(#cgb)"/>
<line x1="0" y1="-9.6" x2="135.3" y2="-9.6" stroke="#009a9a" stroke-width="0.85" opacity="0.8"/>
<line x1="0" y1="-5.2" x2="135.3" y2="-5.2" stroke="#009a9a" stroke-width="0.85" opacity="0.8"/>
<line x1="0" y1="-0.6" x2="135.3" y2="-0.6" stroke="#009a9a" stroke-width="0.85" opacity="0.8"/>
<line x1="0" y1="4.2" x2="135.3" y2="4.2" stroke="#009a9a" stroke-width="0.85" opacity="0.8"/>
<line x1="0" y1="8.6" x2="135.3" y2="8.6" stroke="#009a9a" stroke-width="0.85" opacity="0.8"/>
<line x1="0" y1="-11.7" x2="133.3" y2="-11.7" stroke="#006e6e" stroke-width="0.7"/>
<circle cx="134.5" cy="-0.5" r="2.0" fill="#10cccc" stroke="#007676" stroke-width="0.7"/>
<ellipse cx="0" cy="0" rx="5.4" ry="12" fill="#0ccccc" stroke="#008888" stroke-width="0.7"/>
<ellipse cx="0" cy="0" rx="4.0" ry="9.36" fill="none" stroke="#009090" stroke-width="0.5"/>
<ellipse cx="2.17" cy="3.10" rx="1.15" ry="2.3" fill="#12cfcf" stroke="#007c7c" stroke-width="0.5"/>
<ellipse cx="0.00" cy="6.20" rx="1.15" ry="2.3" fill="#12cfcf" stroke="#007c7c" stroke-width="0.5"/>
<ellipse cx="-2.17" cy="3.10" rx="1.15" ry="2.3" fill="#12cfcf" stroke="#007c7c" stroke-width="0.5"/>
<ellipse cx="-2.17" cy="-3.10" rx="1.15" ry="2.3" fill="#12cfcf" stroke="#007c7c" stroke-width="0.5"/>
<ellipse cx="-0.00" cy="-6.20" rx="1.15" ry="2.3" fill="#12cfcf" stroke="#007c7c" stroke-width="0.5"/>
<ellipse cx="2.17" cy="-3.10" rx="1.15" ry="2.3" fill="#12cfcf" stroke="#007c7c" stroke-width="0.5"/>
<ellipse cx="0" cy="0" rx="1.1" ry="2.2" fill="#10cccc" stroke="#007c7c" stroke-width="0.5"/>
<g transform="translate(0,-2.8)">
<rect x="-23.5" y="-1.9" width="23.5" height="3.8" fill="url(#rgb)"/>
<ellipse cx="-23.5" cy="0" rx="1.0" ry="1.9" fill="#007a7a"/>
</g>
<g transform="translate(0,0.6)">
<rect x="-20.5" y="-1.9" width="20.5" height="3.8" fill="url(#rgb)"/>
<ellipse cx="-20.5" cy="0" rx="1.0" ry="1.9" fill="#007a7a"/>
</g>
<g transform="translate(0,2.6)">
<rect x="-24.0" y="-1.9" width="24.0" height="3.8" fill="url(#rgb)"/>
<ellipse cx="-24.0" cy="0" rx="1.0" ry="1.9" fill="#007a7a"/>
</g>
<g transform="translate(0,6.6)">
<rect x="-21.8" y="-1.9" width="21.8" height="3.8" fill="url(#rgb)"/>
<ellipse cx="-21.8" cy="0" rx="1.0" ry="1.9" fill="#007a7a"/>
</g>
</g>
<line x1="238.3" y1="89.4" x2="238.3" y2="96.6" stroke="#7ccc20" stroke-width="0.9"/>
<line x1="238.3" y1="96.6" x2="234.2" y2="97.9" stroke="#2a7adf" stroke-width="0.9"/>
<line x1="238.3" y1="96.6" x2="240.6" y2="98.4" stroke="#1a4a4a" stroke-width="0.7"/>
<circle cx="239.1" cy="87.6" r="0.8" fill="#d8d040"/>
<line x1="754.3" y1="89.4" x2="754.3" y2="96.6" stroke="#7ccc20" stroke-width="0.9"/>
<line x1="754.3" y1="96.6" x2="750.2" y2="97.9" stroke="#2a7adf" stroke-width="0.9"/>
<line x1="754.3" y1="96.6" x2="756.6" y2="98.4" stroke="#1a4a4a" stroke-width="0.7"/>
<circle cx="755.1" cy="87.6" r="0.8" fill="#d8d040"/>
</svg>
</body></html>
